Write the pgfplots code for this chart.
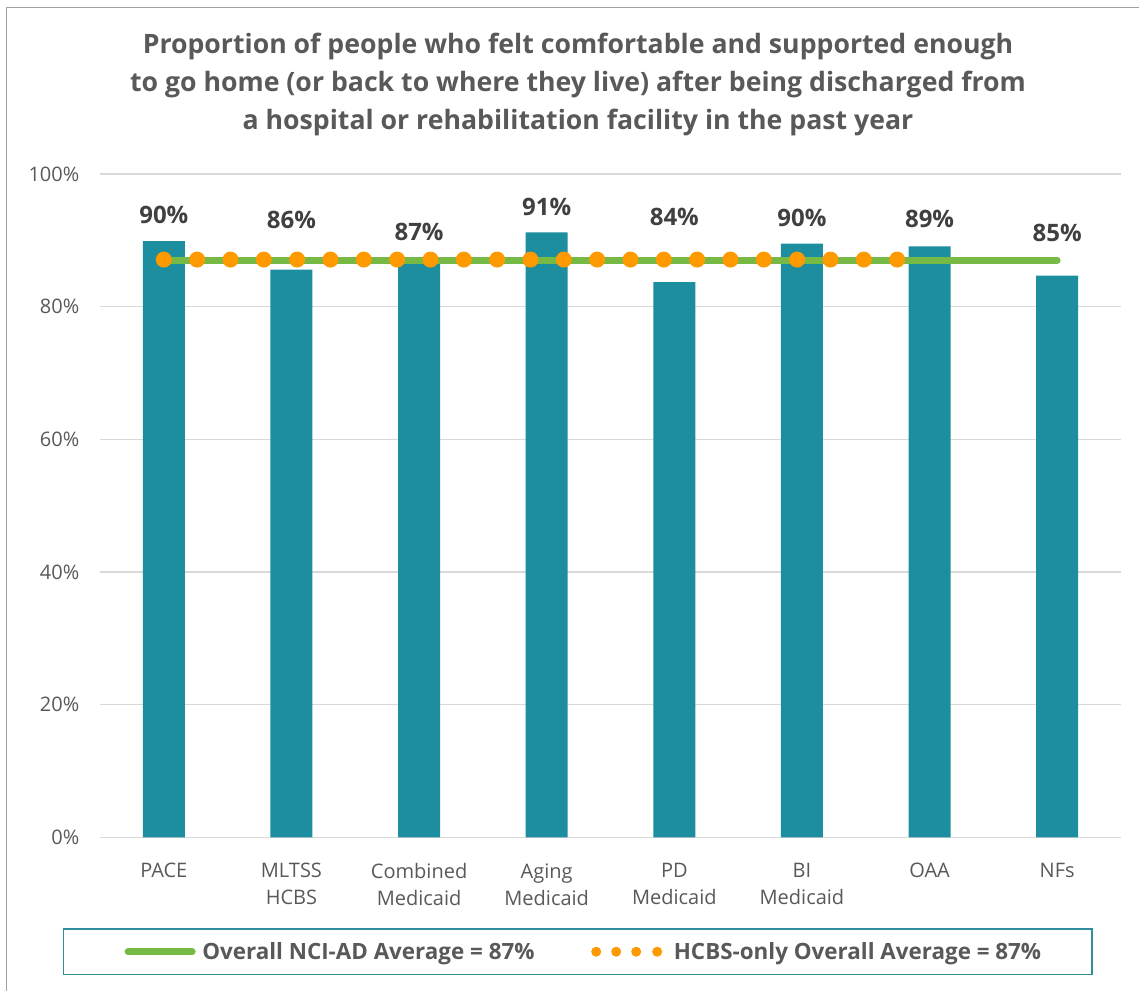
\documentclass[border=0pt]{standalone}
\usepackage{pgfplots}
\pgfplotsset{compat=1.18}
\usepackage{pgfplotstable}
\usepackage{fontspec}
\setmainfont{Open Sans}

\definecolor{barteal}{RGB}{28,142,160}
\definecolor{boxteal}{RGB}{47,143,155}
\definecolor{avggreen}{RGB}{118,185,69}
\definecolor{hcbsorange}{RGB}{255,153,0}
\definecolor{gridgray}{RGB}{217,217,217}
\definecolor{textgray}{RGB}{89,89,89}
\definecolor{labgray}{RGB}{64,64,64}
\definecolor{framegray}{RGB}{160,160,160}

% bar values (percent)
\pgfplotstableread{
x v
0 89.9
1 85.6
2 86.9
3 91.2
4 83.7
5 89.5
6 89.1
7 84.7
}\bars

% data label positions and printed values
\pgfplotstableread{
x ly lab
0 93.8 90
1 93.1 86
2 91.2 87
3 95.1 91
4 93.6 84
5 93.4 90
6 93.2 89
7 91.1 85
}\labels

\begin{document}
\begin{tikzpicture}
\path[use as bounding box] (0,0) rectangle (854.25pt,-742.5pt);
\draw[framegray, line width=1.1pt] (5pt,-745pt) -- (5pt,-5.5pt) -- (860pt,-5.5pt);

\node[align=center, text=textgray, font=\fontsize{20}{28.5}\selectfont\bfseries]
  at (433.5pt,-63pt) {Proportion of people who felt comfortable and supported enough\\
  to go home (or back to where they live) after being discharged from\\
  a hospital or rehabilitation facility in the past year};

\begin{axis}[
  at={(75pt,-628pt)}, anchor=south west,
  scale only axis, width=765.75pt, height=497.5pt,
  xmin=-0.5, xmax=7.5, ymin=0, ymax=100,
  xtick={0,...,7},
  xticklabels={PACE,{MLTSS\\HCBS},{Combined\\Medicaid},{Aging\\Medicaid},{PD\\Medicaid},{BI\\Medicaid},OAA,NFs},
  xticklabel style={align=center, text=textgray, font=\fontsize{15}{20.25}\selectfont, yshift=-16pt},
  ytick={0,20,40,60,80,100},
  yticklabels={0\%,20\%,40\%,60\%,80\%,100\%},
  yticklabel style={text=textgray, font=\fontsize{15}{17}\selectfont, xshift=-12pt},
  ymajorgrids, grid style={draw=gridgray, line width=1.2pt},
  axis line style={draw=none}, major tick length=0pt,
  /pgf/number format/assume math mode=true,
  clip=false,
  legend columns=2,
  legend style={at={(axis description cs:-0.0365,-0.1367)}, anchor=north west,
    draw=boxteal, line width=1.3pt, inner xsep=36pt, inner ysep=8pt,
    font=\fontsize{16.8}{20}\selectfont\bfseries, text=textgray,
    /tikz/every even column/.append style={column sep=40.5pt}},
]
\addplot[ybar, bar width=31.5pt, fill=barteal, draw=none, forget plot] table[x=x, y=v]{\bars};
\addplot[avggreen, line width=5.25pt, line cap=round,
  legend image code/.code={\path[draw=none] (0pt,0pt) -- (66pt,0pt);
    \draw[avggreen, line width=5.25pt, line cap=round] (12.4pt,0pt) -- (60.4pt,0pt);}]
  coordinates {(0,87.0) (7,87.0)};
\addlegendentry{Overall NCI-AD Average = 87\%}
\addplot[hcbsorange, line width=12pt, line cap=round, dash pattern=on 0pt off 25pt,
  legend image code/.code={\path[draw=none] (0pt,0pt) -- (60pt,0pt);
    \foreach \i in {3.75,18.75,33.75,49.5} \path[fill=hcbsorange, draw=none] (\i pt,0pt) circle[radius=3.75pt];}]
  coordinates {(0,87.1) (6,87.1)};
\addlegendentry{HCBS-only Overall Average = 87\%}
\addplot[draw=none, mark=none, forget plot, point meta=explicit,
  nodes near coords={\pgfmathprintnumber[fixed,precision=0]{\pgfplotspointmeta}\%},
  nodes near coords style={anchor=center, text=labgray, font=\fontsize{18}{20}\selectfont\bfseries}]
  table[x=x, y=ly, meta=lab]{\labels};
\end{axis}
\end{tikzpicture}
\end{document}
